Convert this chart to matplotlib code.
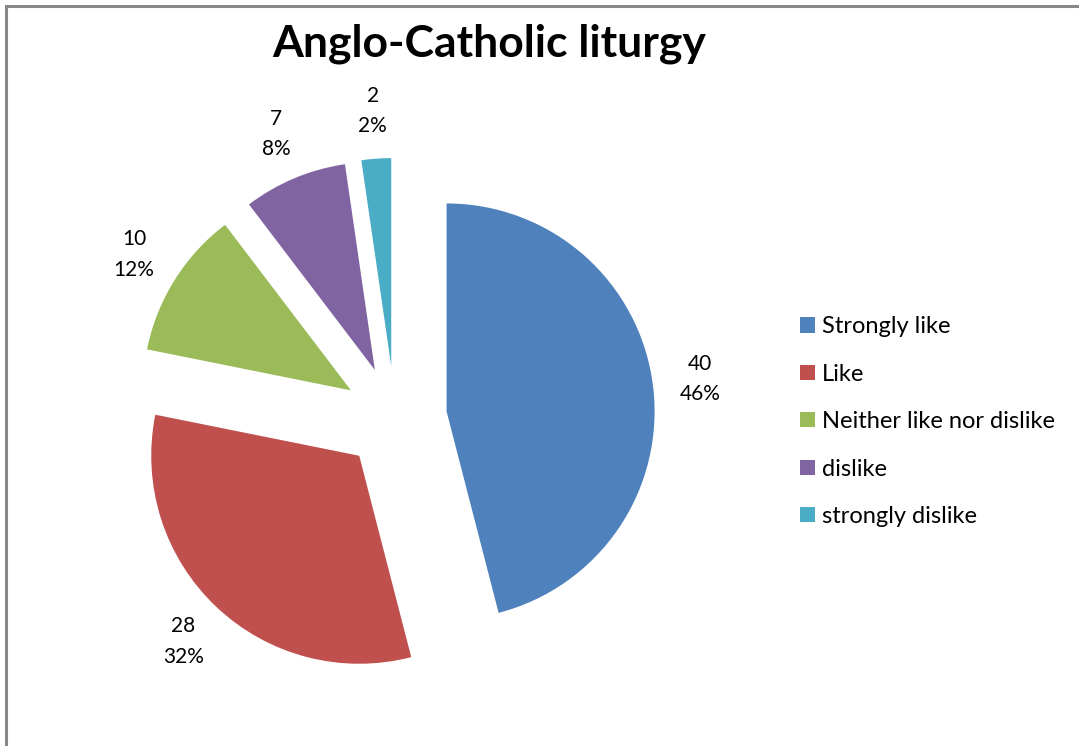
import matplotlib.pyplot as plt
from matplotlib.patches import Rectangle

labels = ['Strongly like', 'Like', 'Neither like nor dislike', 'dislike', 'strongly dislike']
values = [40, 28, 10, 7, 2]
colors = ['#4F81BD', '#C0504D', '#9BBB59', '#8064A2', '#4BACC6']
title = 'Anglo-Catholic liturgy'

plt.rcParams['font.family'] = ['Lato', 'DejaVu Sans']

# whole percents that add up to 100 (largest remainder)
total = sum(values)
raw = [v * 100.0 / total for v in values]
pcts = [int(r) for r in raw]
order = sorted(range(len(raw)), key=lambda i: raw[i] - pcts[i], reverse=True)
for i in order[:100 - sum(pcts)]:
    pcts[i] += 1

fig = plt.figure(figsize=(10.79, 7.46), dpi=100)
ax = fig.add_axes([83 / 1079, 16 / 746, 624 / 1079, 624 / 746])

wedges, texts, autotexts = ax.pie(values, colors=colors, startangle=90, counterclock=False,
                                  explode=[0.25] * len(values), radius=1.0,
                                  autopct='%1.0f%%', pctdistance=1.23,
                                  wedgeprops=dict(linewidth=0),
                                  textprops=dict(fontsize=15, color='black', linespacing=1.65))
for t, v, p in zip(autotexts, values, pcts):
    t.set_text('{}\n{}%'.format(v, p))

ax.set_xlim(-1.5, 1.5)
ax.set_ylim(-1.5, 1.5)
ax.set_aspect('equal')
ax.axis('off')

fig.text(489 / 1079, 1 - 44 / 746, title, ha='center', va='center',
         fontsize=32, fontweight='bold')

fig.legend(wedges, labels, loc='upper left', bbox_to_anchor=(779 / 1079, 1 - 295 / 746),
           frameon=False, fontsize=17, handlelength=0.62, handleheight=0.62,
           labelspacing=1.12, handletextpad=0.3)

fig.add_artist(Rectangle((6 / 1079, -0.1), 1.2, 1 - 6 / 746 + 0.1, transform=fig.transFigure,
                         fill=False, edgecolor='#878787', linewidth=2.2))

fig.savefig('out.png', dpi=100)
